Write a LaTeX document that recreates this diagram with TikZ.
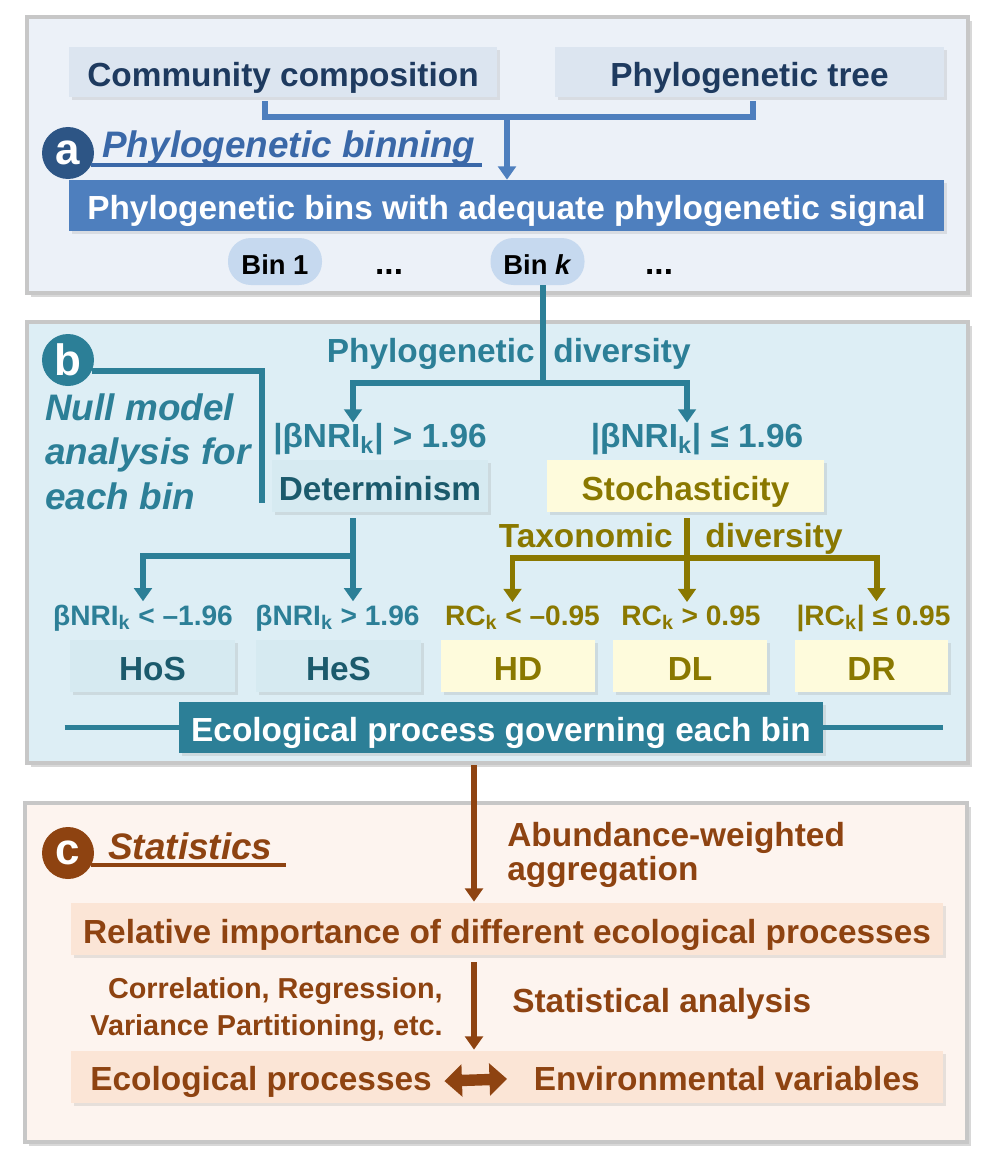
\documentclass[tikz,border=0pt]{standalone}
\usepackage{fontspec}
\setmainfont{Liberation Sans}
\usetikzlibrary{arrows.meta,positioning,shadows,calc}

\definecolor{navy}{HTML}{1E3A5F}
\definecolor{abluetxt}{HTML}{3A68A8}
\definecolor{abar}{HTML}{4E7FBE}
\definecolor{apanel}{HTML}{ECF1F8}
\definecolor{abox}{HTML}{DCE5F0}
\definecolor{acircle}{HTML}{2D5585}
\definecolor{binfill}{HTML}{C6D9EF}
\definecolor{bteal}{HTML}{2C7F97}
\definecolor{bpanel}{HTML}{DDEEF5}
\definecolor{bbox}{HTML}{D6EAF1}
\definecolor{bdark}{HTML}{1B5A6C}
\definecolor{bolive}{HTML}{8A7800}
\definecolor{byellow}{HTML}{FEFBDC}
\definecolor{cbrown}{HTML}{8E4311}
\definecolor{cpanel}{HTML}{FDF4EF}
\definecolor{cbox}{HTML}{FBE5D6}

\newcommand{\pxu}{0.02cm}
\newcommand{\bigtxt}{\fontsize{19}{22}\selectfont\bfseries}
\newcommand{\midtxt}{\fontsize{16.4}{21}\selectfont\bfseries}
\newcommand{\condtxt}{\fontsize{16}{19}\selectfont\bfseries}
\newcommand{\bintxt}{\fontsize{15.6}{18}\selectfont\bfseries}
\newcommand{\sk}{\textsubscript{k}}

\begin{document}
\begin{tikzpicture}[x=0.02cm, y=-0.02cm,
    panel/.style={draw=black!22, line width=2pt,
      drop shadow={opacity=0.3, shadow xshift=2pt, shadow yshift=-2pt}},
    box/.style={rectangle, inner sep=0pt, font=\bigtxt,
      text height=16pt, text depth=0pt,
      drop shadow={opacity=0.18, shadow xshift=1.5pt, shadow yshift=-1.5pt}},
    binbox/.style={rectangle, rounded corners=13pt, fill=binfill,
      inner sep=0pt, minimum width=94*\pxu, minimum height=47*\pxu,
      text height=15pt, text depth=0pt, font=\bintxt},
    lbl/.style={inner sep=0pt, font=\bigtxt},
    cond/.style={inner sep=0pt, font=\condtxt, anchor=base},
    tag/.style={circle, inner sep=0pt, minimum size=52*\pxu, text=white,
      font=\fontsize{25}{25}\selectfont\bfseries},
    head/.style={inner sep=0pt, font=\fontsize{21}{25.5}\selectfont\bfseries\itshape},
    tip/.style={-{Triangle[width=10pt,length=7.5pt]}},
    aline/.style={draw=abar, line width=3pt},
    bline/.style={draw=bteal, line width=3.4pt},
    oline/.style={draw=bolive, line width=3.4pt},
    cline/.style={draw=cbrown, line width=3.4pt}]

  \useasboundingbox (0,0) rectangle (992,1162);
  \fill[white] (0,0) rectangle (992,1162);

  % Panels
  \path[panel, fill=apanel] (27,17) rectangle (968,293);
  \path[panel, fill=bpanel] (27,322) rectangle (968,763);
  \path[panel, fill=cpanel] (25,803) rectangle (967,1142);

  % Panel a: inputs and binning
  \node[box,
    fill=abox,
    text=navy,
    minimum width=428*\pxu,
    minimum height=50*\pxu] (cc) at (283,72) {Community composition};
  \node[box,
    fill=abox,
    text=navy,
    minimum width=389*\pxu,
    minimum height=50*\pxu] (pt) at (749.5,72) {Phylogenetic tree};
  \node[tag, fill=acircle] (atag) at (68,153) {a};
  \node[head, text=abluetxt, anchor=base west] (binning) at (102,158) {Phylogenetic binning};
  \node[box,
    fill=abar,
    text=white,
    minimum width=875*\pxu,
    minimum height=51*\pxu] (bins) at (506.5,205.5) {Phylogenetic bins with adequate phylogenetic signal};
  \node[binbox] (bin1) at (275,261.5) {Bin 1};
  \node[lbl, right=1.05cm of bin1.base east, anchor=base west] (dots1) {...};
  \node[binbox] (bink) at (537.5,261.5) {Bin \textit{k}};
  \node[lbl, right=1.2cm of bink.base east, anchor=base west] (dots2) {...};

  % Connect inputs to bins
  \coordinate (ja) at (507,117);
  \draw[aline] ($(cc.south)+(-18,4)$) |- (ja) -| ($(pt.south)+(3.5,4)$);
  \draw[aline, tip] (ja) -- (ja |- bins.north);
  \draw[draw=abluetxt, line width=1.9pt] (atag.-27) -- ($(binning.east |- atag.-27)+(6,0)$);

  % Panel b: null model
  \node[tag, fill=bteal] (btag) at (68,360) {b};
  \node[head, text=bteal, align=left, anchor=north west] (nullmodel) at (45,393)
    {Null model\\analysis for\\each bin};
  \node[lbl, text=bteal, anchor=base east] (phylo) at (535,362) {Phylogenetic};
  \node[lbl, text=bteal, anchor=base west] (pdiv) at (553,362) {diversity};
  \node[lbl, text=bteal, anchor=base] (gt196) at (380,447) {|βNRI\sk| > 1.96};
  \node[lbl, text=bteal, anchor=base] (le196) at (697,447) {|βNRI\sk| ≤ 1.96};
  \node[box,
    fill=bbox,
    text=bdark,
    minimum width=216*\pxu,
    minimum height=52*\pxu] (det) at (380,486) {Determinism};
  \node[box,
    fill=byellow,
    text=bolive,
    minimum width=277*\pxu,
    minimum height=52*\pxu] (stoch) at (685.5,486) {Stochasticity};
  \node[lbl, text=bolive, anchor=base east] (taxo) at (673,547) {Taxonomic};
  \node[lbl, text=bolive, anchor=base west] (tdiv) at (705,547) {diversity};

  % Conditions
  \node[cond, text=bteal] (ltneg) at (143,625) {βNRI\sk{} < –1.96};
  \node[cond, text=bteal] (gtpos) at (337.5,625) {βNRI\sk{} > 1.96};
  \node[cond, text=bolive] (rclt) at (522.5,625) {RC\sk{} < –0.95};
  \node[cond, text=bolive] (rcgt) at (691,625) {RC\sk{} > 0.95};
  \node[cond, text=bolive] (rcle) at (873.5,625) {|RC\sk| ≤ 0.95};

  % Processes
  \node[box, fill=bbox, text=bdark, minimum width=165*\pxu, minimum height=52*\pxu] (hos) at (152.5,666) {HoS};
  \node[box, fill=bbox, text=bdark, minimum width=165*\pxu, minimum height=52*\pxu] (hes) at (338.5,666) {HeS};
  \node[box, fill=byellow, text=bolive, minimum width=154*\pxu, minimum height=52*\pxu] (hd) at (518,666) {HD};
  \node[box, fill=byellow, text=bolive, minimum width=154*\pxu, minimum height=52*\pxu] (dl) at (690,666) {DL};
  \node[box, fill=byellow, text=bolive, minimum width=153*\pxu, minimum height=52*\pxu] (dr) at (871.5,666) {DR};

  % Connect panel b
  \coordinate (jb) at (543,383);
  \coordinate (jd) at (353,556);
  \coordinate (js) at (687,558);
  \draw[bline] (jb |- bink.south) -- (jb);
  \draw[bline, tip] (jb) -| ($(gt196.north)+(-27,0)$);
  \draw[bline, tip] (jb) -| ($(le196.north)+(-10,0)$);
  \draw[bline] (btag.-25) -| (262,503);
  \draw[bline] ($(det.south -| jd)+(0,6)$) -- (jd);
  \draw[bline, tip] (jd) -| ($(ltneg.north)+(0,-3)$);
  \draw[bline, tip] (jd) -- ($(jd |- gtpos.north)+(0,-3)$);
  \draw[oline] ($(stoch.south -| js)+(0,6)$) -- (js);
  \draw[oline, tip] (js) -- ($(js |- rcgt.north)+(0,-3)$);
  \draw[oline, tip] (js) -| ($(rclt.north)+(-10,-3)$);
  \draw[oline, tip] (js) -| ($(rcle.north)+(3,-3)$);

  \node[box, fill=bteal, text=white, minimum width=644*\pxu, minimum height=51*\pxu] (eco) at (501,727.5) {Ecological process governing each bin};
  \draw[bline] ($(eco.west)+(-114,0)$) -- (eco.west);
  \draw[bline] (eco.east) -- ($(eco.east)+(120,0)$);

  % Panel c: statistics
  \node[tag, fill=cbrown] (ctag) at (68,853) {c};
  \node[head, text=cbrown, anchor=base west] (stats) at (108,859) {Statistics};
  \draw[draw=cbrown, line width=1.9pt] (ctag.-27) -- ($(stats.east |- ctag.-27)+(13,0)$);
  \node[lbl, text=cbrown, align=left, anchor=north west,
    font=\fontsize{19}{19.3}\selectfont\bfseries] (abund) at (507,822) {Abundance-weighted\\aggregation};
  \node[box,
    fill=cbox,
    text=cbrown,
    minimum width=872*\pxu,
    minimum height=52*\pxu] (rel) at (507,929) {Relative importance of different ecological processes};
  \node[lbl, text=cbrown, align=right, anchor=north east, font=\midtxt] (corr) at (443,977)
    {Correlation, Regression,\\Variance Partitioning, etc.};
  \node[lbl, text=cbrown, anchor=base west] (statan) at (512,1012) {Statistical analysis};
  \node[box, fill=cbox, minimum width=872*\pxu, minimum height=52*\pxu] (envbox) at (507,1077) {};
  \node[lbl, text=cbrown, anchor=base west] (ecoproc) at (90,1090) {Ecological processes};
  \node[lbl, text=cbrown, anchor=base east] (envvar) at (920,1090) {Environmental variables};

  % Connect panel c
  \draw[cline, tip] ($(eco.south)+(-27,12)$) -- ($(rel.north)+(-33,-1)$);
  \draw[cline, tip] ($(rel.south)+(-33,7)$) -- ($(envbox.north)+(-33,-1)$);
  \draw[draw=cbrown, line width=6.5pt,
    {Triangle[width=18pt,length=10pt]}-{Triangle[width=18pt,length=10pt]},
    shorten <=7pt, shorten >=15pt] (ecoproc.east) -- (envvar.west);
\end{tikzpicture}
\end{document}
